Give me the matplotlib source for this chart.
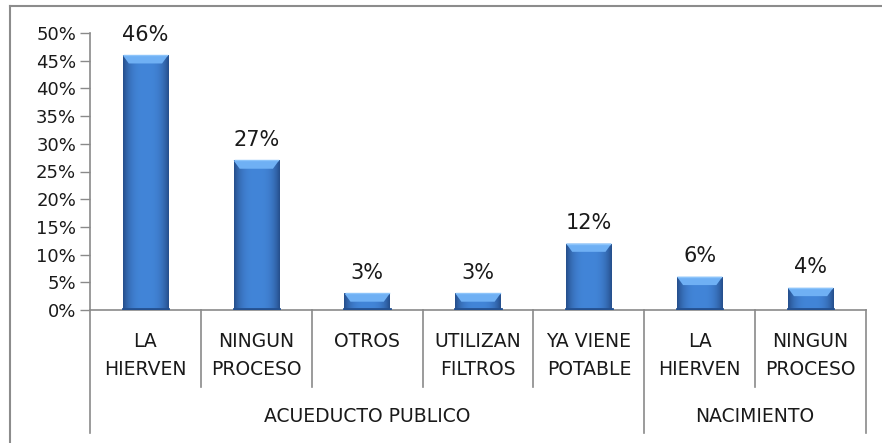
import numpy as np
import matplotlib
matplotlib.use("Agg")
import matplotlib.pyplot as plt
from matplotlib.patches import Polygon
from matplotlib.lines import Line2D
from matplotlib.colors import to_rgb

# water treatment by supply source
categories = ["LA\nHIERVEN", "NINGUN\nPROCESO", "OTROS", "UTILIZAN\nFILTROS",
              "YA VIENE\nPOTABLE", "LA\nHIERVEN", "NINGUN\nPROCESO"]
values = [0.46, 0.27, 0.03, 0.03, 0.12, 0.06, 0.04]
groups = ["ACUEDUCTO PUBLICO", "NACIMIENTO"]
group_sizes = [5, 2]
yticks = [0, 0.05, 0.10, 0.15, 0.20, 0.25, 0.30, 0.35, 0.40, 0.45, 0.50]

W, H = 882, 443
fig = plt.figure(figsize=(W / 100, H / 100), dpi=100)
ax = fig.add_axes([90 / W, 133 / H, 776 / W, 277 / H])

line_col = "#8a8a8a"
edge_col = np.array(to_rgb("#264f8c"))
mid_col = np.array(to_rgb("#4285d8"))
cap_col = "#6fb0f4"

x = np.arange(len(values))
bw = 0.41
bars = ax.bar(x, values, width=bw, color="#3c7cd0", zorder=2)

# horizontal shading inside each bar
t = np.linspace(0, 1, 64)
prof = 1 - np.abs(2 * t - 1) ** 3
grad = edge_col[None, :] + (mid_col - edge_col)[None, :] * prof[:, None]
grad = grad[None, :, :]
cap_h = 0.015
inset = 0.055
for b in bars:
    x0, x1 = b.get_x(), b.get_x() + b.get_width()
    top = b.get_height()
    im = ax.imshow(grad, extent=[x0, x1, 0, top], aspect="auto", zorder=3,
                   interpolation="bilinear")
    im.set_clip_path(b)
    # bevelled top edge
    cap = Polygon([[x0, top], [x1, top], [x1 - inset, top - cap_h],
                   [x0 + inset, top - cap_h]], closed=True,
                  facecolor=cap_col, edgecolor="none", zorder=4)
    ax.add_patch(cap)
    ax.plot([x0 + 0.01, x1 - 0.01], [top, top], color="#8cc4fa", lw=1, zorder=5)
    # dark base
    ax.plot([x0, x1], [0.0015, 0.0015], color="#24508f", lw=2, zorder=5)

for xi, v in zip(x, values):
    ax.annotate(f"{v:.0%}", (xi, v), xytext=(0, 10.5), textcoords="offset points",
                ha="center", va="baseline", fontsize=15, color="#1a1a1a")

ax.set_xlim(-0.5, len(values) - 0.5)
ax.set_ylim(0, 0.5)
ax.set_yticks(yticks)
ax.set_yticklabels([f"{v:.0%}" for v in yticks])
ax.tick_params(axis="y", labelsize=13, length=7, width=1, color=line_col,
               labelcolor="#1a1a1a", pad=3)
ax.set_xticks([])
for s in ["top", "right"]:
    ax.spines[s].set_visible(False)
for s in ["left", "bottom"]:
    ax.spines[s].set_color(line_col)
    ax.spines[s].set_linewidth(1.2)

# two-level category axis
tr = ax.get_xaxis_transform()
for xi, lab in zip(x, categories):
    ax.text(xi, -0.078, lab, transform=tr, ha="center", va="top",
            fontsize=13.5, linespacing=1.6, color="#1a1a1a")

short_lines = []
long_lines = [-0.5]
start = 0
for g, n in zip(groups, group_sizes):
    end = start + n
    ax.text((start + end - 1) / 2, -0.386, g, transform=tr, ha="center",
            va="center", fontsize=13.5, color="#1a1a1a")
    short_lines += [b - 0.5 for b in range(start + 1, end)]
    long_lines.append(end - 0.5)
    start = end

for b in short_lines:
    ax.add_line(Line2D([b, b], [0, -0.278], transform=tr, color=line_col,
                       lw=1.2, clip_on=False))
for b in long_lines:
    ax.add_line(Line2D([b, b], [0, -0.444], transform=tr, color=line_col,
                       lw=1.2, clip_on=False))

# chart area border
fig.add_artist(Line2D([10 / W, 10 / W], [0, 1 - 6 / H], color="#8c8c8c", lw=1.5))
fig.add_artist(Line2D([10 / W, 1], [1 - 6 / H, 1 - 6 / H], color="#8c8c8c", lw=1.5))

fig.savefig("out.png", dpi=100)
